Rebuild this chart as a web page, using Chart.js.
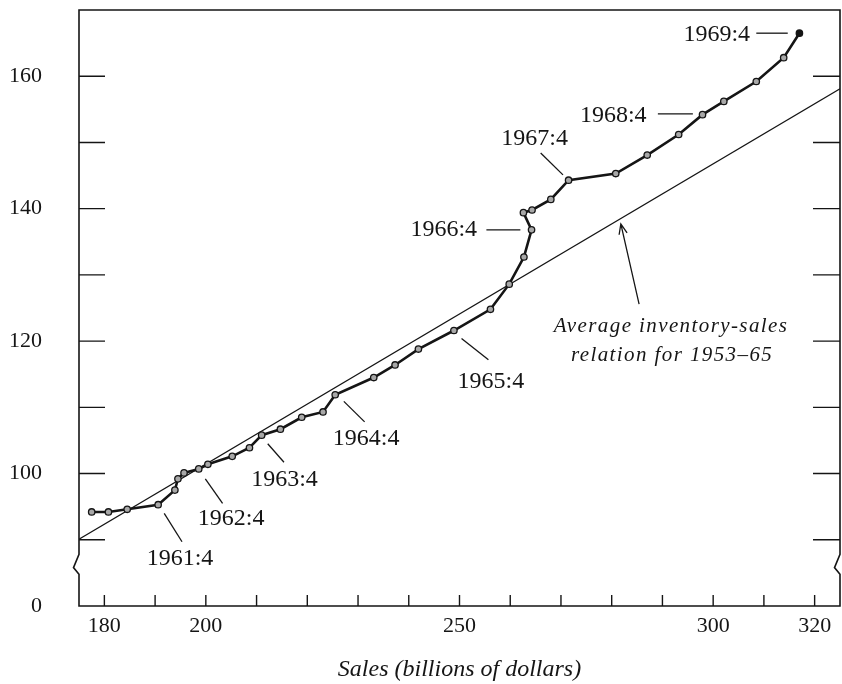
<!DOCTYPE html>
<html>
<head>
<meta charset="utf-8">
<script src="https://cdn.jsdelivr.net/npm/chart.js@4.4.0/dist/chart.umd.min.js"></script>
<style>
  html, body { margin: 0; padding: 0; background: #fff; }
  #wrap { width: 842px; height: 684px; }
</style>
</head>
<body>
<div id="wrap"><canvas id="chart" width="842" height="684"></canvas></div>
<script>
// quarterly observations 1961:1 .. 1969:4
var quarters = [];
for (var yr = 1961; yr <= 1969; yr++) {
    for (var q = 1; q <= 4; q++) quarters.push(yr + ':' + q);
}
// sales, billions of dollars (x)
var sales = [177.5, 180.8, 184.5, 190.6, 193.9, 194.5, 195.7, 198.6,
             200.4, 205.2, 208.6, 211.0, 214.7, 218.9, 223.1, 225.5,
             233.1, 237.3, 241.9, 248.9, 256.1, 259.8, 262.7, 264.2,
             262.6, 264.3, 268.0, 271.5, 280.8, 287.0, 293.2, 297.9,
             302.1, 308.5, 313.9, 317.0];
// inventories (y)
var inventories = [94.2, 94.2, 94.6, 95.3, 97.5, 99.2, 100.1, 100.7,
                   101.4, 102.6, 103.9, 105.8, 106.7, 108.5, 109.3, 111.9,
                   114.5, 116.4, 118.8, 121.6, 124.8, 128.6, 132.7, 136.8,
                   139.4, 139.8, 141.4, 144.3, 145.3, 148.1, 151.2, 154.2,
                   156.2, 159.2, 162.8, 166.5];
// average inventory-sales relation 1953-65 (end points)
var trendSales = [175, 325];
var trendInv = [90.1, 158.1];

var xTicks = [180, 190, 200, 210, 220, 230, 240, 250, 260, 270, 280, 290, 300, 310, 320];
var xLabeled = [180, 200, 250, 300, 320];
var yTicks = [80, 90, 100, 110, 120, 130, 140, 150, 160];
var yLabeled = [100, 120, 140, 160];
var yZeroAt = 80;   // bottom of the broken axis is labelled 0

var callouts = ['1961:4', '1962:4', '1963:4', '1964:4', '1965:4', '1966:4', '1967:4', '1968:4', '1969:4'];

// where each callout sits, in data units
var calloutPos = {
    '1961:4': { at: [194.9, 87.2], line: [[191.8, 94.0], [195.3, 89.7]] },
    '1962:4': { at: [205.0, 93.2], line: [[199.9, 99.2], [203.3, 95.5]] },
    '1963:4': { at: [215.5, 99.1], line: [[212.2, 104.5], [215.4, 101.7]] },
    '1964:4': { at: [231.6, 105.3], line: [[227.2, 110.9], [231.3, 107.8]] },
    '1965:4': { at: [256.2, 113.9], line: [[250.4, 120.4], [255.7, 117.2]] },
    '1966:4': { at: [246.9, 136.8], line: [[255.3, 136.8], [262.0, 136.8]] },
    '1967:4': { at: [264.8, 150.5], line: [[266.0, 148.4], [270.4, 145.1]] },
    '1968:4': { at: [280.3, 154.1], line: [[289.1, 154.3], [296.0, 154.3]] },
    '1969:4': { at: [300.7, 166.3], line: [[308.5, 166.5], [314.7, 166.5]] }
};
var note = {
    lines: ['Average inventory-sales', 'relation for 1953\u201365'],
    at: [[291.7, 122.2], [291.9, 117.8]],
    arrowFrom: [285.4, 125.6],
    arrowTo: [281.8, 137.7]
};

var INK = '#151515';
var SERIF = '"Liberation Serif", "DejaVu Serif", serif';

var frame = {
    id: 'frame',
    afterDraw: function(chart) {
        var ctx = chart.ctx;
        var a = chart.chartArea;
        var xs = chart.scales.x, ys = chart.scales.y;
        ctx.save();
        ctx.strokeStyle = INK;
        ctx.lineWidth = 1.6;
        ctx.lineCap = 'butt';

        // box with broken vertical axes
        var b1 = ys.getPixelForValue(87.8), b2 = ys.getPixelForValue(85.8), b3 = ys.getPixelForValue(84.8);
        ctx.beginPath();
        ctx.moveTo(a.left, a.bottom);
        ctx.lineTo(a.left, b3);
        ctx.lineTo(a.left - 5.5, b2);
        ctx.lineTo(a.left, b1);
        ctx.lineTo(a.left, a.top);
        ctx.lineTo(a.right, a.top);
        ctx.lineTo(a.right, b1);
        ctx.lineTo(a.right - 5.5, b2);
        ctx.lineTo(a.right, b3);
        ctx.lineTo(a.right, a.bottom);
        ctx.closePath();
        ctx.stroke();

        // inward tick marks
        ctx.lineWidth = 1.4;
        ctx.beginPath();
        yTicks.forEach(function(v) {
            if (v === yZeroAt) return;
            var py = ys.getPixelForValue(v);
            ctx.moveTo(a.left, py); ctx.lineTo(a.left + 26, py);
            ctx.moveTo(a.right - 27, py); ctx.lineTo(a.right, py);
        });
        xTicks.forEach(function(v) {
            var px = xs.getPixelForValue(v);
            ctx.moveTo(px, a.bottom); ctx.lineTo(px, a.bottom - 11);
        });
        ctx.stroke();

        // callouts
        ctx.fillStyle = INK;
        ctx.font = '24px ' + SERIF;
        ctx.textAlign = 'center';
        ctx.textBaseline = 'middle';
        ctx.lineWidth = 1.3;
        callouts.forEach(function(name) {
            var c = calloutPos[name];
            ctx.fillText(name, xs.getPixelForValue(c.at[0]), ys.getPixelForValue(c.at[1]));
            ctx.beginPath();
            ctx.moveTo(xs.getPixelForValue(c.line[0][0]), ys.getPixelForValue(c.line[0][1]));
            ctx.lineTo(xs.getPixelForValue(c.line[1][0]), ys.getPixelForValue(c.line[1][1]));
            ctx.stroke();
        });

        // note with arrow
        ctx.font = 'italic 21px ' + SERIF;
        if ('letterSpacing' in ctx) ctx.letterSpacing = '1.4px';
        note.lines.forEach(function(t, i) {
            ctx.fillText(t, xs.getPixelForValue(note.at[i][0]), ys.getPixelForValue(note.at[i][1]));
        });
        if ('letterSpacing' in ctx) ctx.letterSpacing = '0px';
        var x0 = xs.getPixelForValue(note.arrowFrom[0]), y0 = ys.getPixelForValue(note.arrowFrom[1]);
        var x1 = xs.getPixelForValue(note.arrowTo[0]), y1 = ys.getPixelForValue(note.arrowTo[1]);
        var ang = Math.atan2(y1 - y0, x1 - x0);
        ctx.lineWidth = 1.3;
        ctx.beginPath();
        ctx.moveTo(x0, y0); ctx.lineTo(x1, y1);
        ctx.moveTo(x1 - 11 * Math.cos(ang - 0.38), y1 - 11 * Math.sin(ang - 0.38));
        ctx.lineTo(x1, y1);
        ctx.lineTo(x1 - 11 * Math.cos(ang + 0.38), y1 - 11 * Math.sin(ang + 0.38));
        ctx.stroke();
        ctx.restore();
    }
};

var last = sales.length - 1;
new Chart(document.getElementById('chart'), {
    type: 'scatter',
    data: {
        datasets: [{
            label: 'Inventories',
            data: sales.map(function(s, i) { return { x: s, y: inventories[i], q: quarters[i] }; }),
            showLine: true,
            borderColor: INK,
            borderWidth: 2.6,
            pointRadius: 3.2,
            pointBorderWidth: 1.3,
            pointBorderColor: INK,
            pointBackgroundColor: function(c) { return c.dataIndex === last ? INK : '#a8a8a8'; }
        }, {
            label: 'Average relation 1953-65',
            data: trendSales.map(function(s, i) { return { x: s, y: trendInv[i] }; }),
            showLine: true,
            borderColor: INK,
            borderWidth: 1.2,
            pointRadius: 0
        }]
    },
    options: {
        responsive: false,
        animation: false,
        layout: { autoPadding: false, padding: { top: 10, right: 2, left: 0, bottom: 0 } },
        plugins: { legend: { display: false }, tooltip: { enabled: false } },
        scales: {
            x: {
                type: 'linear',
                min: 175, max: 325,
                afterBuildTicks: function(s) { s.ticks = xTicks.map(function(v) { return { value: v }; }); },
                afterFit: function(s) { s.height = 78; s.paddingLeft = 0; s.paddingRight = 0; },
                grid: { display: false, drawTicks: false },
                border: { display: false },
                ticks: {
                    autoSkip: false, maxRotation: 0, padding: 7, color: INK,
                    font: { family: SERIF, size: 22 },
                    callback: function(v) { return xLabeled.indexOf(v) >= 0 ? String(v) : ''; }
                },
                title: {
                    display: true, text: 'Sales (billions of dollars)', color: INK,
                    font: { family: SERIF, size: 24, style: 'italic' },
                    padding: { top: 0, bottom: 0 }
                }
            },
            y: {
                type: 'linear',
                min: 80, max: 170,
                afterBuildTicks: function(s) { s.ticks = yTicks.map(function(v) { return { value: v }; }); },
                afterFit: function(s) { s.width = 79; s.paddingTop = 0; s.paddingBottom = 0; },
                grid: { display: false, drawTicks: false },
                border: { display: false },
                ticks: {
                    padding: 37, color: INK,
                    font: { family: SERIF, size: 22 },
                    callback: function(v) {
                        if (v === yZeroAt) return '0';
                        return yLabeled.indexOf(v) >= 0 ? String(v) : '';
                    }
                }
            }
        }
    },
    plugins: [frame]
});
</script>
</body>
</html>
